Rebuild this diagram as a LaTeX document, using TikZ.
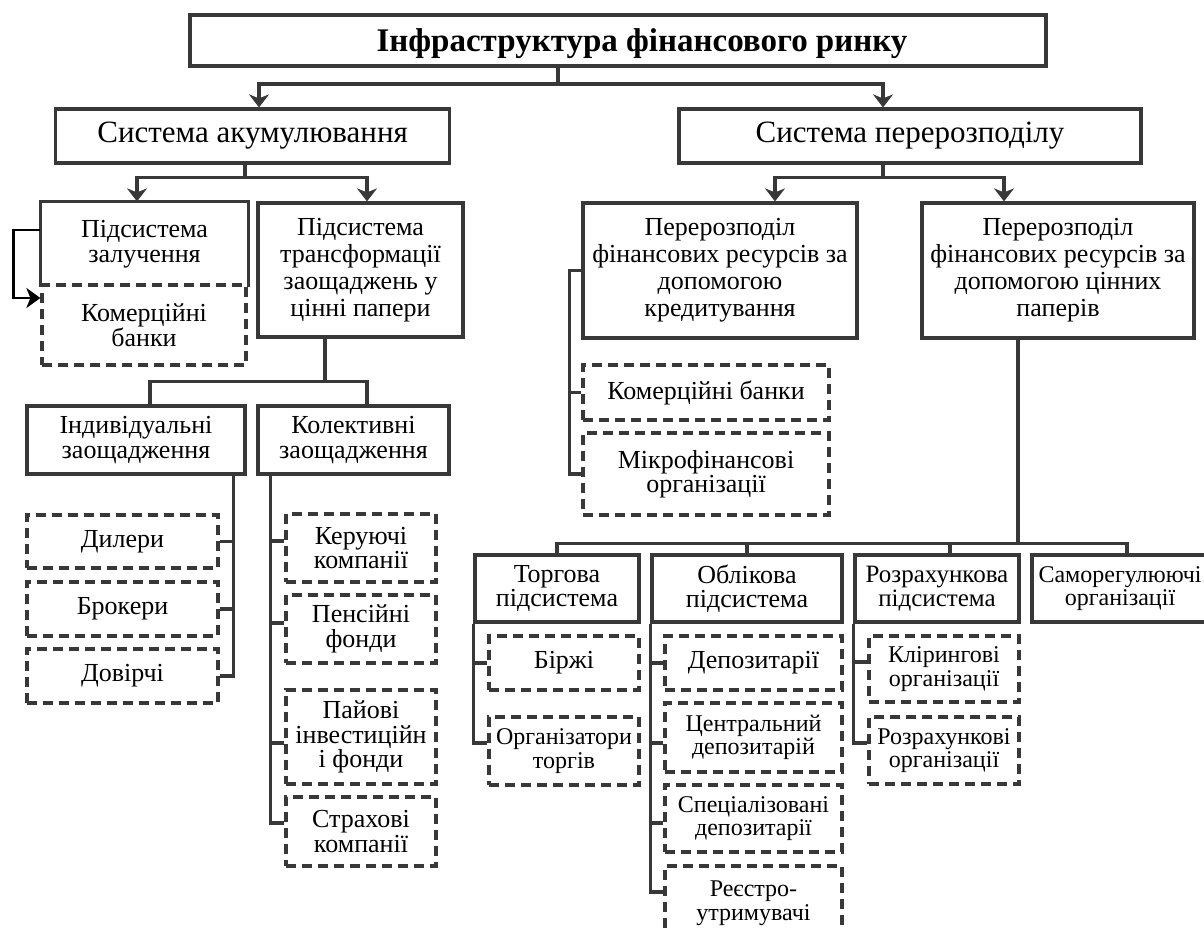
\documentclass[tikz,border=0pt]{standalone}
\usepackage{fontspec}
\setmainfont{Liberation Serif}
\usetikzlibrary{arrows.meta}
\definecolor{lc}{HTML}{383838}
\tikzset{
  base/.style={rectangle, inner sep=0pt, align=center, line width=3.2pt, font=\fontsize{26}{24.5}\selectfont, text=black},
  sbox/.style={base, draw=lc},
  dbox/.style={base, draw=lc, dash pattern=on 10pt off 6pt},
  sz/.style 2 args={minimum width=#1, minimum height=#2},
  wire/.style={draw=lc, line width=3.2pt},
  arr/.style={wire, -{Stealth[length=13pt,width=20pt,inset=4pt]}},
  sm/.style={font=\fontsize{24}{23.5}\selectfont},
  four/.style={font=\fontsize{26}{27}\selectfont},
}
\begin{document}
\begin{tikzpicture}[x=1pt,y=-1pt]
\useasboundingbox (0,0) rectangle (1204,931);

% level 0
\node[sbox, sz={856}{51}, text depth=0pt, font=\bfseries\fontsize{33}{33}\selectfont] (title) at (618,40.5) {\hspace*{48pt}Інфраструктура фінансового ринку};

% level 1
\node[sbox, sz={394}{54}, font=\fontsize{31}{31}\selectfont] (sysA) at (252.6,136) {Система акумулювання};
\node[sbox, sz={462}{54}, font=\fontsize{31}{31}\selectfont] (sysR) at (910,136) {Система перерозподілу};

\draw[wire] ([xshift=-60pt]title.south) -- ++(0,16.5) coordinate (tj);
\draw[arr] (tj) -| ([xshift=6.4pt]sysA.north);
\draw[arr] (tj) -| ([xshift=-27pt]sysR.north);

% left subsystems
\node[base, sz={205}{82}] (subZ) at (144.5,244) {Підсистема\\залучення};
\draw[wire, line join=miter] (subZ.south west) -- (subZ.north west) -- (subZ.north east) -- (subZ.south east);
\node[dbox, sz={204}{80}] (kbL) at (144,325) {Комерційні\\банки};
\node[sbox, sz={205}{134}, four] (subT) at (360.5,270) {Підсистема\\трансформації\\заощаджень у\\цінні папери};

\draw[wire] ([xshift=-7.6pt]sysA.south) -- ++(0,13) coordinate (ja);
\draw[arr] (ja) -| ([xshift=-7.5pt]subZ.north);
\draw[arr] (ja) -| ([xshift=6.5pt]subT.north);

\draw[line width=2.8pt, black, -{Stealth[length=14pt,width=20pt,inset=4pt]}] ([yshift=14pt]subZ.west) -- ++(-27,0) |- ([yshift=27pt]kbL.west);

% savings
\node[sbox, sz={218}{68}] (ind) at (136,440) {Індивідуальні\\заощадження};
\node[sbox, sz={191}{68}] (kol) at (353.5,440) {Колективні\\заощадження};
\draw[wire] ([xshift=-35.5pt]subT.south) -- ++(0,43) coordinate (jt);
\draw[wire] (jt) -| ([xshift=14pt]ind.north);
\draw[wire] (jt) -| ([xshift=13.5pt]kol.north);

\node[dbox, sz={191}{53}] (dil) at (122.5,541.5) {Дилери};
\node[dbox, sz={191}{54}] (brok) at (122.5,609) {Брокери};
\node[dbox, sz={191}{54}] (dov) at (122.5,676) {Довірчі};
\draw[wire] ([xshift=-13pt]ind.south east) |- (dov.east);
\draw[wire] ([xshift=-13pt]ind.south east) |- (dil.east);
\draw[wire] ([xshift=-13pt]ind.south east) |- (brok.east);

\node[dbox, sz={150}{68}] (ker) at (361,548) {Керуючі\\компанії};
\node[dbox, sz={150}{68}] (pens) at (361,629) {Пенсійні\\фонди};
\node[dbox, sz={150}{94}] (pay) at (361,737) {Пайові\\інвестиційн\\і фонди};
\node[dbox, sz={150}{69}] (str) at (361,831.5) {Страхові\\компанії};
\draw[wire] ([xshift=14pt]kol.south west) |- ([yshift=8.5pt]str.west);
\draw[wire] ([xshift=14pt]kol.south west) |- ([yshift=7pt]ker.west);
\draw[wire] ([xshift=14pt]kol.south west) |- ([yshift=6pt]pens.west);
\draw[wire] ([xshift=14pt]kol.south west) |- ([yshift=-6pt]pay.west);

% right subsystems
\node[sbox, sz={274}{135}, four] (per1) at (720,270.5) {Перерозподіл\\фінансових ресурсів за\\допомогою\\кредитування};
\node[sbox, sz={272}{135}, four] (per2) at (1058,270.5) {Перерозподіл\\фінансових ресурсів за\\допомогою цінних\\паперів};
\draw[wire] ([xshift=-27pt]sysR.south) -- ++(0,13) coordinate (jr);
\draw[arr] (jr) -| ([xshift=55pt]per1.north);
\draw[arr] (jr) -| ([xshift=-54pt]per2.north);

\node[dbox, sz={246}{55}] (kbR) at (706,392.5) {Комерційні банки};
\node[dbox, sz={246}{82}] (mikro) at (706,474) {Мікрофінансові\\організації};
\draw[wire] (per1.west) -- ++(-12,0) |- (mikro.west);
\draw[wire] ([xshift=-12pt]per1.west) |- (kbR.west);

% securities infrastructure
\node[sbox, sz={164}{67}] (torg) at (557,588.5) {Торгова\\підсистема};
\node[sbox, sz={190}{67}] (obl) at (747,588.5) {Облікова\\підсистема};
\node[sbox, sz={164}{67}, font=\fontsize{25}{24}\selectfont] (rozr) at (937,588.5) {Розрахункова\\підсистема};
\node[sbox, sz={176}{67}, sm] (samo) at (1120,588.5) {Саморегулюючі\\організації};
\draw[wire] ([xshift=-40pt]per2.south) -- ++(0,204) coordinate (jp);
\draw[wire] (jp) -| (torg.north);
\draw[wire] (jp) -| (obl.north);
\draw[wire] (jp) -| ([xshift=13pt]rozr.north);
\draw[wire] (jp) -| ([xshift=7pt]samo.north);

\node[dbox, sz={150}{54}] (birzh) at (564,663) {Біржі};
\node[dbox, sz={150}{68}, sm] (org) at (564,751) {Організатори\\торгів};
\draw[wire] (torg.south west) |- ([yshift=8pt]org.west);
\draw[wire] (torg.south west) |- (birzh.west);

\node[dbox, sz={177}{54}] (dep) at (753.5,663) {Депозитарії};
\node[dbox, sz={177}{69}, sm] (cdep) at (753.5,737.5) {Центральний\\депозитарій};
\node[dbox, sz={177}{67}, sm] (sdep) at (753.5,818.5) {Спеціалізовані\\депозитарії};
\node[dbox, sz={177}{74}, sm, text depth=5pt] (reestr) at (753.5,903) {Реєстро-\\утримувачі};
\draw[wire] (obl.south west) |- ([yshift=11pt]reestr.west);
\draw[wire] (obl.south west) |- (dep.west);
\draw[wire] (obl.south west) |- ([yshift=-5.5pt]cdep.west);
\draw[wire] (obl.south west) |- ([yshift=-4.5pt]sdep.west);

\node[dbox, sz={150}{66}, sm] (kl) at (944,669) {Клірингові\\організації};
\node[dbox, sz={150}{67}, sm] (rozo) at (944,750.5) {Розрахункові\\організації};
\draw[wire] (rozr.south west) |- ([yshift=7.5pt]rozo.west);
\draw[wire] (rozr.south west) |- ([yshift=7pt]kl.west);
\end{tikzpicture}
\end{document}
